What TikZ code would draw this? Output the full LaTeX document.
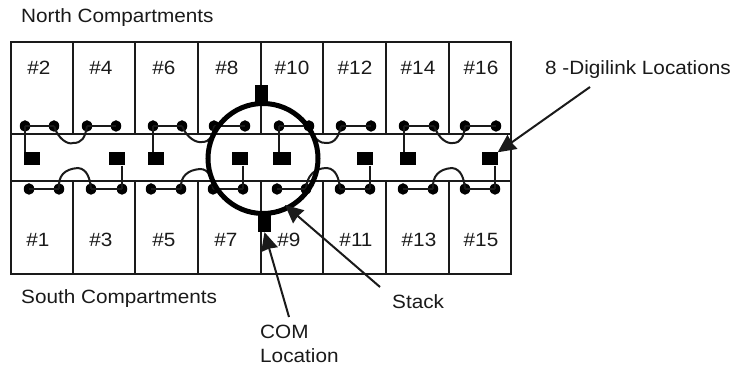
\documentclass[tikz,border=0pt]{standalone}
\usepackage{fontspec}
\setmainfont[FakeStretch=1.08]{Liberation Sans}
\usetikzlibrary{arrows.meta}
\definecolor{ink}{HTML}{1A1A1A}
\tikzset{
 wall/.style={draw=ink,line width=2pt},
 wire/.style={draw=ink,line width=2pt},
 pin/.style={ellipse,fill=black,inner sep=0pt,minimum width=10.5pt,minimum height=11.5pt},
 digi/.style={rectangle,fill=black,inner sep=0pt,minimum width=16pt,minimum height=13pt},
 comp/.style={rectangle,fill=black,inner sep=0pt},
 lab/.style={inner sep=0pt,text=ink,font=\fontsize{19.2}{22}\selectfont},
 pointer/.style={draw=ink,line width=2pt,-{Stealth[length=18pt,width=17pt,inset=1pt]}},
}
\usetikzlibrary{shapes.geometric}
\begin{document}
\begin{tikzpicture}[x=1pt,y=-1pt]
\useasboundingbox (0,0) rectangle (740,366);
\fill[white] (0,0) rectangle (740,366);
% walls
\draw[wall] (10.5,134.5) rectangle (511,181);
\draw[wall] (11,134.5) -- (11,42) -- (511,42) -- (511,134.5);
\draw[wall] (11,181) -- (11,274) -- (511,274) -- (511,181);
\foreach \x in {73,135,198,261,323,386,449}{
  \draw[wall] (\x,42) -- (\x,134.5);
  \draw[wall] (\x,181) -- (\x,274);
}
% compartment numbers
\foreach \n/\x in {2/39,4/101,6/164,8/227,10/292,12/355,14/418,16/481}
  \node[lab] (n\n) at (\x,68) {\#\n};
\foreach \n/\x in {1/38,3/101,5/164,7/226,9/289,11/356,13/419,15/481}
  \node[lab] (n\n) at (\x,240) {\#\n};
% pins
\foreach \i/\x in {a/25,b/54,c/87,d/116,e/153,f/182,g/214,h/245,i/279,j/309,k/341,l/371,m/404,n/434,o/465,p/496}
  \node[pin] (t\i) at (\x,126) {};
\foreach \i/\x in {a/29,b/59,c/91,d/122,e/151,f/181,g/213,h/243,i/277,j/306,k/340,l/370,m/403,n/433,o/465,p/495}
  \node[pin] (b\i) at (\x,189) {};
% Digilink boxes
\node[digi] (s1) at (31.5,159) {};
\node[digi] (s2) at (116.5,159) {};
\node[digi] (s3) at (156,159) {};
\node[digi] (s4) at (239.5,159) {};
\node[digi,minimum width=18pt] (s5) at (282,159) {};
\node[digi] (s6) at (365,159) {};
\node[digi] (s7) at (408,159) {};
\node[digi] (s8) at (489.5,159) {};
% pin pairs
\foreach \u/\v in {a/b,c/d,e/f,g/h,i/j,k/l,m/n,o/p}{
  \draw[wire] (t\u.center) -- (t\v.center);
  \draw[wire] (b\u.center) -- (b\v.center);
}
% box to pin
\draw[wire] (s1.north -| ta) -- (ta.center);
\draw[wire] (s2.south -| bd) -- (bd.center);
\draw[wire] (s3.north -| te) -- (te.center);
\draw[wire] (s4.south -| bh) -- (bh.center);
\draw[wire] (s5.north -| ti) -- (ti.center);
\draw[wire] (s6.south -| bl) -- (bl.center);
\draw[wire] (s7.north -| tm) -- (tm.center);
\draw[wire] (s8.south -| bp) -- (bp.center);
% jumpers
\draw[wire] (tb.center) .. controls (58,139) and (68,145) .. (73,143) .. controls (82,143) and (85,138) .. (tc.center);
\draw[wire] (tf.center) .. controls (187,138) and (196,143) .. (202,142) .. controls (210,142) and (213,136) .. (tg.center);
\draw[wire] (tj.center) .. controls (313,139) and (321,144) .. (327,143) .. controls (335,143) and (339,136) .. (tk.center);
\draw[wire] (tn.center) .. controls (439,139) and (447,144) .. (453,143) .. controls (461,143) and (464,136) .. (to.center);
\draw[wire] (bb.center) .. controls (58,176) and (64,169) .. (78,168) .. controls (87,169) and (90,178) .. (bc.center);
\draw[wire] (bf.center) .. controls (180,176) and (188,170) .. (200,169) .. controls (209,169) and (212,178) .. (bg.center);
\draw[wire] (bj.center) .. controls (307,176) and (314,168) .. (327,168) .. controls (336,169) and (339,178) .. (bk.center);
\draw[wire] (bn.center) .. controls (432,176) and (439,169) .. (452,168) .. controls (461,169) and (464,178) .. (bo.center);
% stack
\node[circle,draw=black,line width=5pt,fill=none,inner sep=0pt,minimum size=110pt] (stack) at (263,158.5) {};
\node[comp,minimum width=13pt,minimum height=18pt] (comtop) at (261,94) {};
\node[comp,minimum width=13pt,minimum height=19pt] (combot) at (264.5,222.5) {};
% labels
\node[lab,anchor=west] (north) at (21,17.5) {North Compartments};
\node[lab,anchor=west] (south) at (21,299) {South Compartments};
\node[lab,anchor=west] (digilab) at (545,70) {8 -Digilink Locations};
\node[lab,anchor=west] (stacklab) at (392,302) {Stack};
\node[lab,anchor=west] (comlab) at (260,332) {COM};
\node[lab,anchor=west] (loclab) at (260,356) {Location};
% pointers
\coordinate (p1) at (590,87);
\coordinate (p2) at (380,287);
\coordinate (p3) at (289,317);
\draw[pointer] (p1) -- (s8.north east);
\draw[pointer] (p2) -- (285,205);
\draw[pointer] (p3) -- (combot.south);
\end{tikzpicture}
\end{document}
